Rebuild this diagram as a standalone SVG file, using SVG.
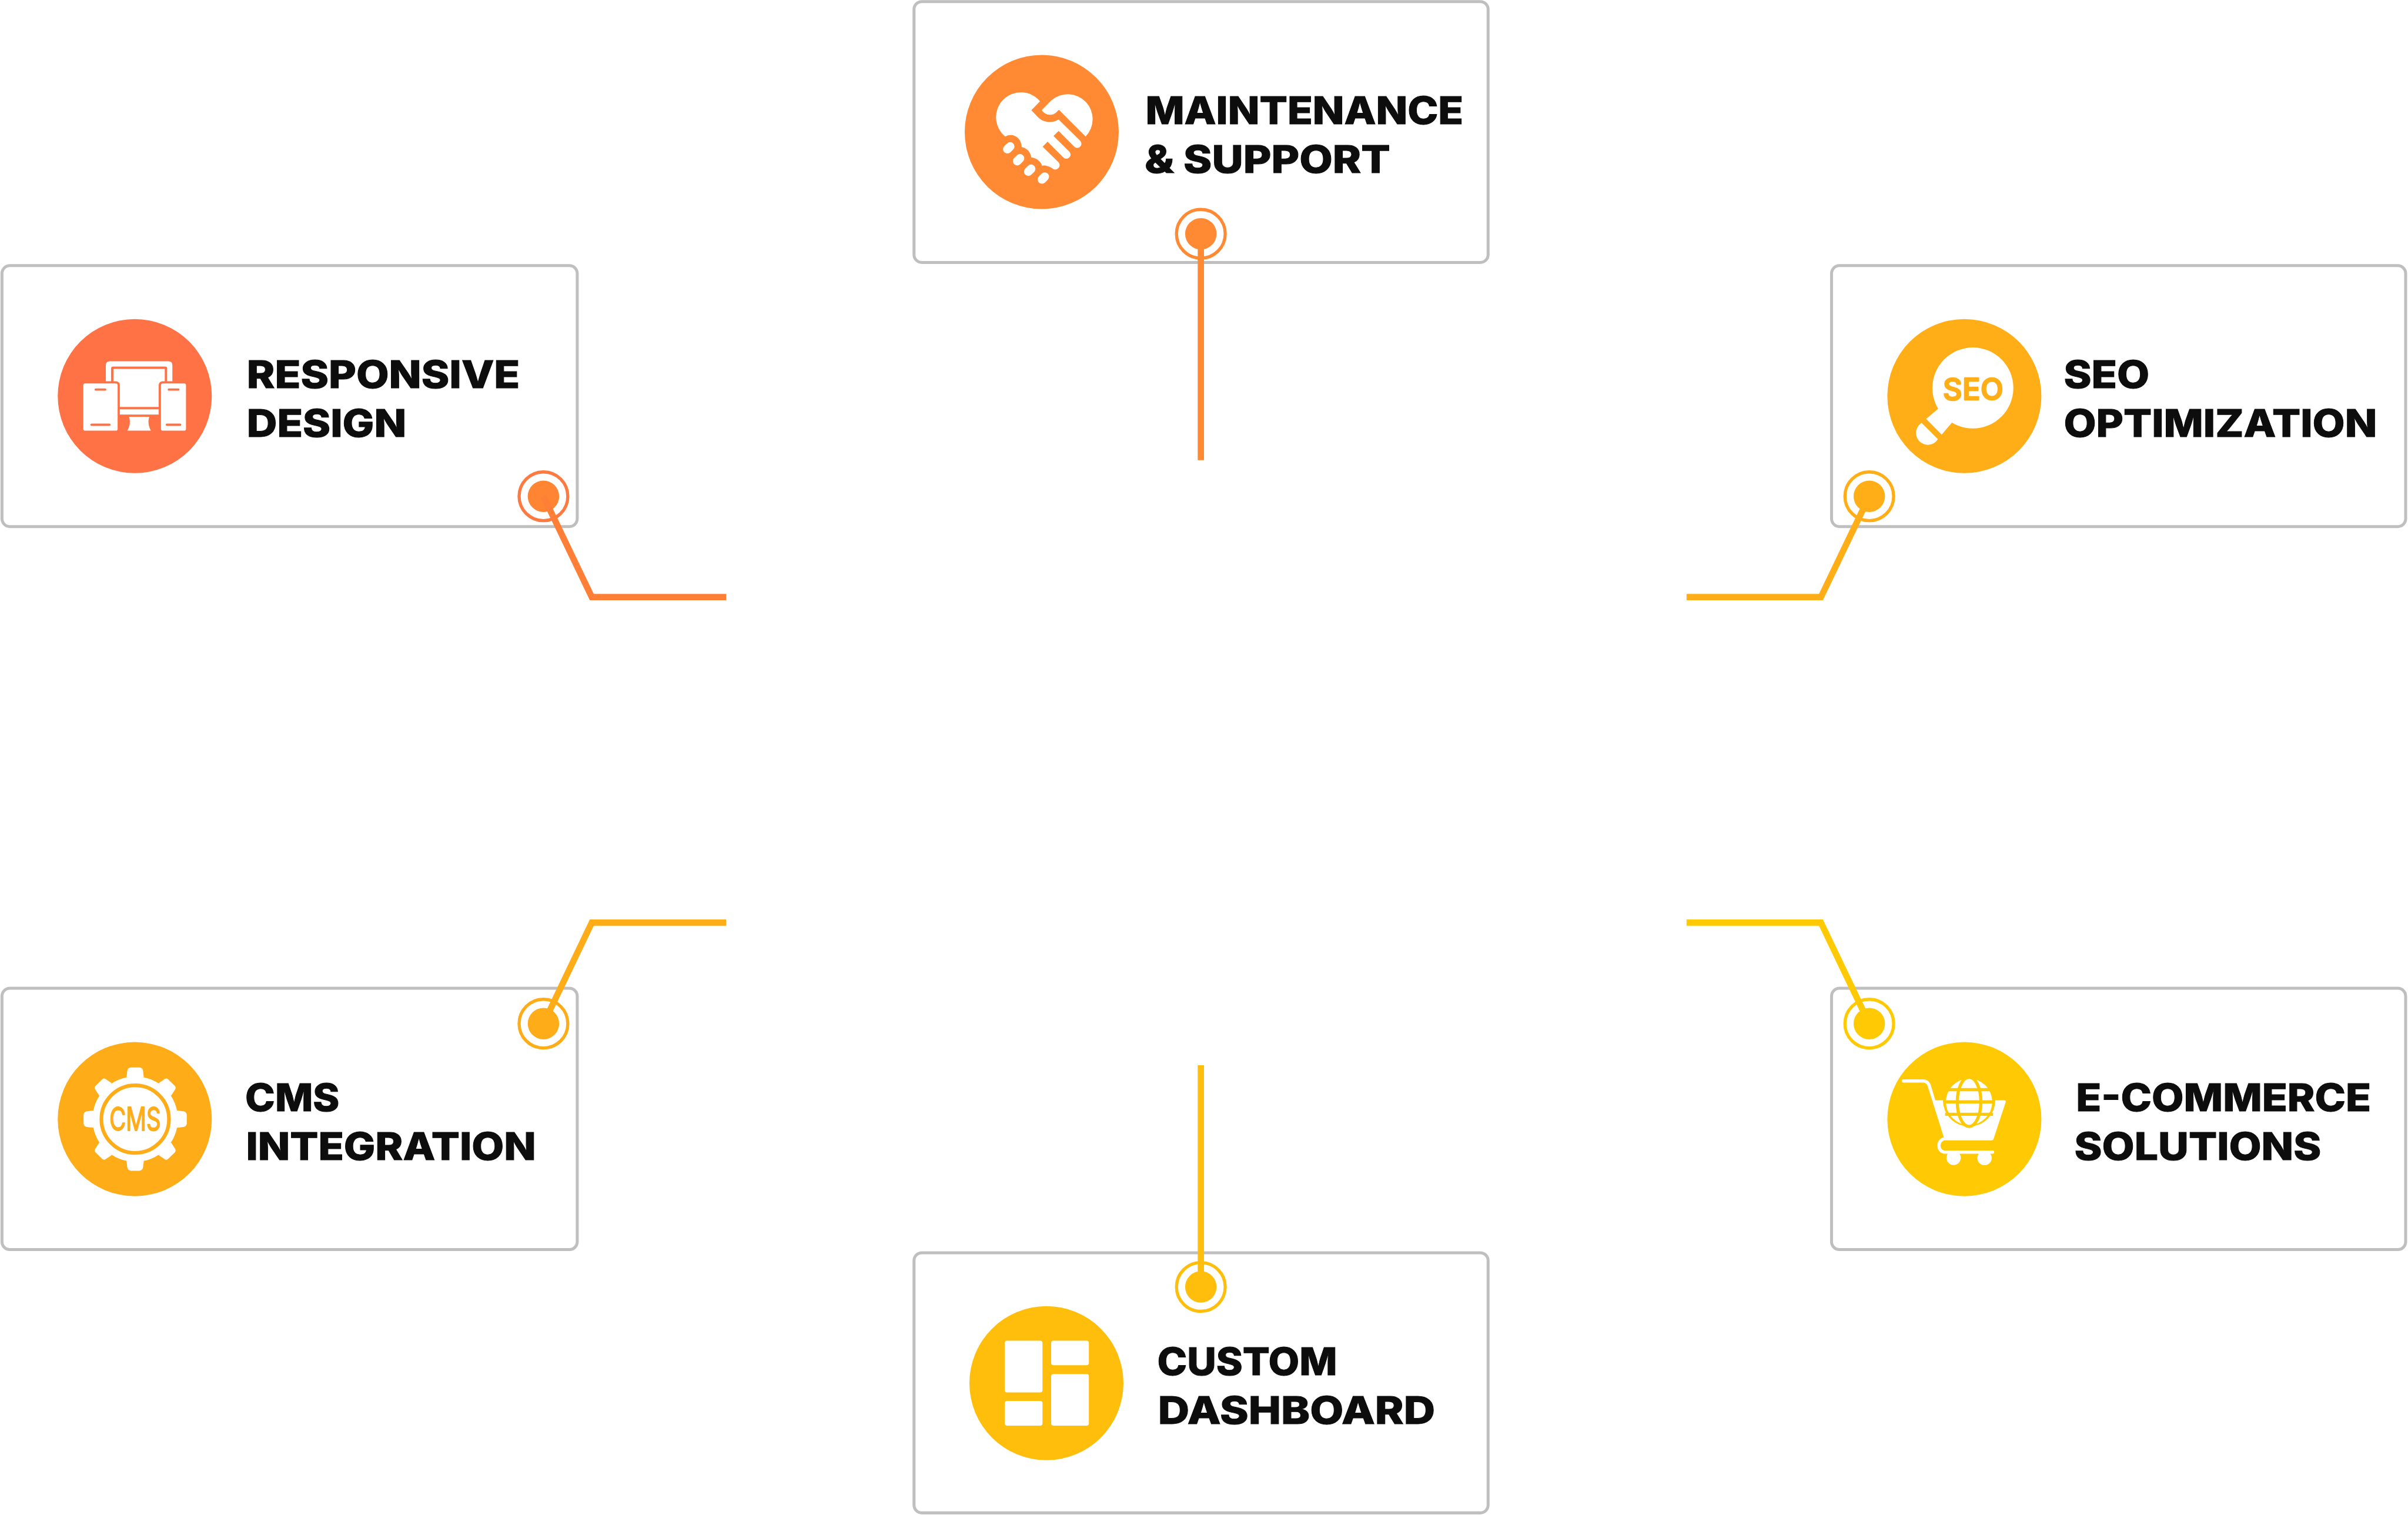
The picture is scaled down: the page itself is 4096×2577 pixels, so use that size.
<svg xmlns="http://www.w3.org/2000/svg" width="4096" height="2577" viewBox="0 0 4096 2577">
<style>
.box{fill:#fff;stroke:#bfbfbf;stroke-width:7.5}
.lbl{font-family:Inter,"Noto Sans","Liberation Sans",sans-serif;font-weight:800;font-size:97px;fill:#0d0d0d;stroke:#0d0d0d;stroke-width:1.5px}
.w{fill:#fff}
.ring{fill:#fff;stroke-width:8}
.conn{fill:none;stroke-width:16}
</style>
<rect width="4096" height="2577" fill="#fff"/>
<g transform="scale(0.66841)">
<g id="node-maintenance">
<rect class="box" x="2326" y="4" width="1461" height="664" rx="20"/>
<circle cx="2651" cy="336" r="196" fill="#ff8a33"/>
<g transform="translate(2420 120) scale(.33333)">
<path class="w" d="M692 482L765 408A190 190 0 0 1 1028 682L824 478L806 496A72 72 0 0 1 706 496Z"/>
<path class="w" d="M680 413A190 190 0 1 0 414 682C470 650 540 690 540 762C580 770 610 805 613 842C650 845 685 870 696 906C730 898 760 915 778 928C800 945 830 925 830 900C830 890 825 885 820 878L700 760L738 722L858 842C880 865 915 845 913 820C913 810 908 802 903 797L783 678L822 640L942 760C965 782 996 760 996 738C996 728 990 718 985 713L822 552C780 580 710 580 665 535L614 482Z"/>
<g stroke="#fff" stroke-width="66" stroke-linecap="round">
<path d="M431 779L452 758M506 870L527 849M591 950L612 929M695 1010L716 989"/>
</g>
</g>
<text class="lbl" x="2915" y="316" textLength="809" lengthAdjust="spacingAndGlyphs">MAINTENANCE</text>
<text class="lbl" x="2913" y="440" textLength="625" lengthAdjust="spacingAndGlyphs">&amp; SUPPORT</text>
<circle class="ring" cx="3056" cy="595" r="62" stroke="#ff8a33"/>
<circle cx="3056" cy="595" r="40" fill="#ff8a33"/>
</g>
<g id="node-responsive">
<rect class="box" x="5" y="676" width="1464" height="664" rx="20"/>
<circle cx="343" cy="1008" r="196" fill="#ff7245"/>
<g transform="translate(120 790) scale(.33333)">
<path class="w" d="M448 541L448 418Q448 388 478 388L926 388Q956 388 956 418L956 541L916 541L916 442Q916 428 902 428L502 428Q488 428 488 442L488 541Z"/>
<path class="w" d="M506 446L898 446L898 541L880 541Q851 545 851 575L851 737L555 737L555 570Q555 545 525 541L506 541Z"/>
<rect class="w" x="555" y="755" width="296" height="40"/>
<path class="w" d="M625 812L780 812C770 840 770 880 792 918L612 918C635 880 635 840 625 812Z"/>
<rect class="w" x="276" y="558" width="262" height="360" rx="14"/>
<rect class="w" x="869" y="558" width="191" height="360" rx="14"/>
<g fill="#ff7245">
<rect x="362" y="596" width="90" height="17" rx="8.5"/>
<rect x="330" y="864" width="154" height="18" rx="9"/>
<rect x="920" y="596" width="90" height="17" rx="8.5"/>
<rect x="905" y="864" width="119" height="18" rx="9"/>
</g>
</g>
<text class="lbl" x="628" y="987" textLength="695" lengthAdjust="spacingAndGlyphs">RESPONSIVE</text>
<text class="lbl" x="628" y="1112" textLength="406" lengthAdjust="spacingAndGlyphs">DESIGN</text>
<circle class="ring" cx="1383" cy="1263" r="62" stroke="#ff7a40"/>
<circle cx="1383" cy="1263" r="40" fill="#ff8533"/>
</g>
<g id="node-seo">
<rect class="box" x="4661" y="676" width="1461" height="664" rx="20"/>
<circle cx="4999" cy="1008" r="196" fill="#ffae17"/>
<g transform="translate(4780 790) scale(.33333)">
<circle class="w" cx="722" cy="592" r="309"/>
<path class="w" d="M457 750L365 828L484 948L563 855L650 700Z"/>
<path class="w" d="M330 858L455 983A90 90 0 0 1 378 1026A90 90 0 0 1 288 936C288 905 305 875 330 858Z"/>
<text x="494" y="682" textLength="460" lengthAdjust="spacing" font-family="Inter,'Noto Sans',sans-serif" font-weight="500" font-size="226" fill="#ffae17" stroke="#ffae17" stroke-width="12" stroke-linejoin="round">SEO</text>
</g>
<text class="lbl" x="5252" y="987" textLength="218" lengthAdjust="spacingAndGlyphs">SEO</text>
<text class="lbl" x="5252" y="1112" textLength="797" lengthAdjust="spacingAndGlyphs">OPTIMIZATION</text>
<circle class="ring" cx="4757" cy="1263" r="62" stroke="#ffae17"/>
<circle cx="4757" cy="1263" r="40" fill="#ffae17"/>
</g>
<g id="node-cms">
<rect class="box" x="5" y="2515" width="1464" height="665" rx="20"/>
<circle cx="343" cy="2848" r="196" fill="#ffac19"/>
<g transform="translate(120 2630) scale(.33333)">
<circle class="w" cx="672" cy="654" r="326"/>
<g class="w">
<path d="M606 335L612 285Q615 262 640 260L704 260Q728 262 732 285L738 335Z"/>
<path d="M493 380L445 347Q432 340 420 350L372 398Q358 412 366 426L398 475Z"/>
<path d="M851 380L899 347Q912 340 924 350L972 398Q986 412 978 426L946 475Z"/>
<path d="M606 973L612 1023Q615 1046 640 1048L704 1048Q728 1046 732 1023L738 973Z"/>
<path d="M493 928L445 961Q432 968 420 958L372 910Q358 896 366 882L398 833Z"/>
<path d="M851 928L899 961Q912 968 924 958L972 910Q986 896 978 882L946 833Z"/>
<path d="M353 588L303 594Q280 597 278 622L278 686Q280 711 303 714L353 720Z"/>
<path d="M991 588L1041 594Q1064 597 1066 622L1066 686Q1064 711 1041 714L991 720Z"/>
</g>
<circle cx="672" cy="654" r="258" fill="#fff" stroke="#ffac19" stroke-width="28"/>
<text x="476" y="742" textLength="392" lengthAdjust="spacingAndGlyphs" font-family="Inter,'Noto Sans',sans-serif" font-weight="400" font-size="244" fill="#ffac19" stroke="#ffac19" stroke-width="8" stroke-linejoin="round">CMS</text>
</g>
<text class="lbl" x="624" y="2828" textLength="240" lengthAdjust="spacingAndGlyphs">CMS</text>
<text class="lbl" x="626" y="2952" textLength="738" lengthAdjust="spacingAndGlyphs">INTEGRATION</text>
<circle class="ring" cx="1383" cy="2605" r="62" stroke="#ffac19"/>
<circle cx="1383" cy="2605" r="40" fill="#ffac19"/>
</g>
<g id="node-ecommerce">
<rect class="box" x="4661" y="2515" width="1461" height="665" rx="20"/>
<circle cx="4999" cy="2848" r="196" fill="#ffc903"/>
<g transform="translate(4780 2630) scale(.33333)">
<path class="w" d="M192 351L342 351C372 351 392 370 400 392L435 510L493 510A200 200 0 1 0 893 510L960 510Q975 510 972 525L880 805Q877 816 868 816L510 816C490 816 475 835 475 855C475 878 490 894 510 894L873 894A12 12 0 0 1 873 918L855 918A55 55 0 1 1 767 918L620 918A55 55 0 1 1 530 918L510 918C475 918 451 890 451 855C451 825 470 800 500 792L377 402C372 385 358 375 342 375L192 375A12 12 0 0 1 192 351Z"/>
<circle class="w" cx="693" cy="522" r="177"/>
<g fill="none" stroke="#ffc903" stroke-width="24">
<ellipse cx="693" cy="522" rx="90" ry="188"/>
<path d="M510 429H876M500 522H886M510 617H876"/>
</g>
</g>
<text class="lbl" x="5283" y="2828" textLength="751" lengthAdjust="spacingAndGlyphs">E-COMMERCE</text>
<text class="lbl" x="5279" y="2952" textLength="628" lengthAdjust="spacingAndGlyphs">SOLUTIONS</text>
<circle class="ring" cx="4757" cy="2605" r="62" stroke="#ffc903"/>
<circle cx="4757" cy="2605" r="40" fill="#ffc903"/>
</g>
<g id="node-dashboard">
<rect class="box" x="2326" y="3188" width="1461" height="662" rx="20"/>
<circle cx="2663" cy="3520" r="196" fill="#ffbe0b"/>
<g transform="translate(2430 3300) scale(.33333)">
<rect class="w" x="381" y="336" width="288" height="394" rx="18"/>
<rect class="w" x="735" y="336" width="288" height="187" rx="18"/>
<rect class="w" x="381" y="796" width="288" height="188" rx="18"/>
<rect class="w" x="735" y="590" width="288" height="394" rx="18"/>
</g>
<text class="lbl" x="2945" y="3500" textLength="458" lengthAdjust="spacingAndGlyphs">CUSTOM</text>
<text class="lbl" x="2947" y="3623" textLength="705" lengthAdjust="spacingAndGlyphs">DASHBOARD</text>
<circle class="ring" cx="3056" cy="3275" r="62" stroke="#ffbe0b"/>
<circle cx="3056" cy="3275" r="40" fill="#ffbe0b"/>
</g>
<g id="connectors">
<path class="conn" stroke="#ff8a33" d="M3056 1171V595"/>
<path class="conn" stroke="#ff7f37" d="M1848 1519.5H1506L1383 1263"/>
<path class="conn" stroke="#ffae17" d="M4292 1519.5H4634L4757 1263"/>
<path class="conn" stroke="#ffac19" d="M1848 2348H1506L1383 2605"/>
<path class="conn" stroke="#ffc903" d="M4292 2348H4634L4757 2605"/>
<path class="conn" stroke="#ffbe0b" d="M3056 2711V3275"/>
</g>
</g>
</svg>
